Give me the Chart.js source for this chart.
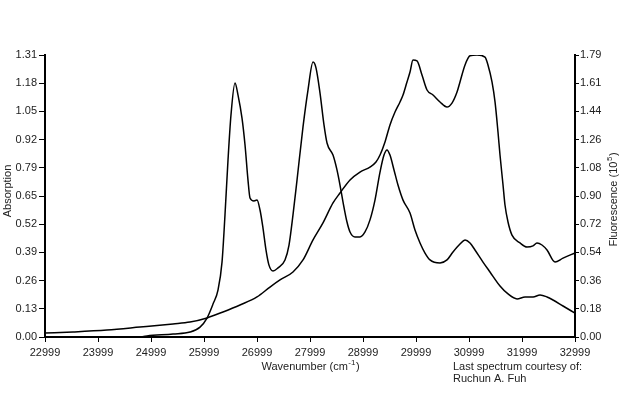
<!DOCTYPE html>
<html>
<head>
<meta charset="utf-8">
<script src="https://cdn.jsdelivr.net/npm/chart.js@4/dist/chart.umd.min.js"></script>
<style>
  html, body { margin: 0; padding: 0; background: #fff; }
  #wrap { width: 623px; height: 393px; }
</style>
</head>
<body>
<div id="wrap"><canvas id="c" width="623" height="393"></canvas></div>
<script>
// ---- Data ----
// Sharp vibronic curve, plotted on the left (Absorption) axis
const absWavenumbers = [24791,24924,25414,25735,25924,26056,26169,26263,26339,26395,26452,26508,26584,26641,26716,26773,26829,26867,26942,26999,27056,27112,27169,27225,27301,27395,27527,27603,27678,27754,27867,27961,28056,28112,28188,28263,28320,28433,28508,28565,28622,28697,28754,28848,28942,29037,29131,29225,29320,29395,29452,29508,29584,29659,29754,29886,29980,30075,30169,30263,30452,30584,30697,30829,30924,31018,31112,31263,31395,31584,31735,31905,32056,32207,32339,32471,32584,32773,32999];
const absValues = [0.000,0.005,0.014,0.023,0.046,0.088,0.153,0.218,0.348,0.567,0.822,1.031,1.180,1.124,1.017,0.892,0.729,0.646,0.632,0.636,0.590,0.506,0.404,0.334,0.307,0.321,0.358,0.427,0.567,0.729,0.976,1.147,1.277,1.250,1.133,0.985,0.901,0.845,0.776,0.706,0.627,0.534,0.488,0.465,0.465,0.488,0.544,0.636,0.766,0.845,0.869,0.845,0.776,0.706,0.636,0.576,0.497,0.437,0.390,0.358,0.344,0.358,0.395,0.432,0.451,0.437,0.404,0.348,0.302,0.237,0.200,0.177,0.186,0.186,0.195,0.186,0.172,0.144,0.111];

// Smooth broad curve, plotted on the right (Fluorescence, 10^5) axis
const fluWavenumbers = [22999,23527,24169,24791,25414,25735,26056,26358,26678,26999,27244,27433,27678,27867,28056,28244,28433,28565,28754,28942,29131,29244,29320,29414,29508,29603,29697,29754,29829,29886,29942,30018,30112,30207,30320,30452,30584,30678,30773,30829,30924,31018,31150,31301,31357,31433,31490,31546,31584,31641,31678,31735,31810,31961,32093,32207,32282,32376,32471,32622,32773,32999];
const fluValues = [0.025,0.032,0.044,0.063,0.083,0.095,0.121,0.159,0.203,0.254,0.317,0.362,0.413,0.489,0.616,0.724,0.851,0.914,0.997,1.047,1.079,1.111,1.155,1.238,1.346,1.428,1.492,1.536,1.619,1.682,1.758,1.752,1.663,1.568,1.536,1.492,1.460,1.485,1.555,1.619,1.727,1.785,1.790,1.777,1.727,1.619,1.492,1.301,1.155,0.965,0.838,0.730,0.647,0.597,0.571,0.578,0.597,0.584,0.552,0.476,0.501,0.533];

// Axis tick labels
const xTickValues = [22999,23999,24999,25999,26999,27999,28999,29999,30999,31999,32999];
const leftTickLabels = ['0.00','0.13','0.26','0.39','0.52','0.65','0.79','0.92','1.05','1.18','1.31'];
const rightTickLabels = ['0.00','0.18','0.36','0.54','0.72','0.90','1.08','1.26','1.44','1.61','1.79'];
const LEFT_MAX = 1.31;
const RIGHT_MAX = 1.79;
const X_MIN = 22999, X_MAX = 32999;

// ---- Chart ----
const FONT_FAMILY = '"Liberation Sans", Arial, Helvetica, sans-serif';
const TEXT_COLOR = '#222';

function toPoints(xs, ys) { return xs.map((x, i) => ({ x: x, y: ys[i] })); }

function drawSupText(ctx, parts, cx, cy, rotation) {
  // parts: [base, sup, tail]
  const mainFont = '11px ' + FONT_FAMILY;
  const supFont = '8px ' + FONT_FAMILY;
  ctx.save();
  ctx.translate(cx, cy);
  ctx.rotate(rotation);
  ctx.textBaseline = 'middle';
  ctx.textAlign = 'left';
  ctx.font = mainFont;
  const w1 = ctx.measureText(parts[0]).width;
  const w3 = ctx.measureText(parts[2]).width;
  ctx.font = supFont;
  const w2 = ctx.measureText(parts[1]).width;
  let x = -(w1 + w2 + w3) / 2;
  ctx.font = mainFont;
  ctx.fillText(parts[0], x, 0);
  x += w1;
  ctx.font = supFont;
  ctx.fillText(parts[1], x + 0.5, -4);
  x += w2 + 1;
  ctx.font = mainFont;
  ctx.fillText(parts[2], x, 0);
  ctx.restore();
}

const textPlugin = {
  id: 'extraTexts',
  afterDraw(chart) {
    const ctx = chart.ctx;
    const a = chart.chartArea;
    ctx.save();
    ctx.fillStyle = TEXT_COLOR;
    // x axis title
    drawSupText(ctx, ['Wavenumber (cm', '-1', ')'], (a.left + a.right) / 2, 367, 0);
    // left axis title
    ctx.save();
    ctx.translate(8, 191);
    ctx.rotate(-Math.PI / 2);
    ctx.font = '11px ' + FONT_FAMILY;
    ctx.textAlign = 'center';
    ctx.textBaseline = 'middle';
    ctx.fillText('Absorption', 0, 0);
    ctx.restore();
    // right axis title
    drawSupText(ctx, ['Fluorescence (10', '5', ')'], 614, 200, -Math.PI / 2);
    // credit
    ctx.font = '11px ' + FONT_FAMILY;
    ctx.textAlign = 'left';
    ctx.textBaseline = 'middle';
    ctx.fillText('Last spectrum courtesy of:', 453, 367);
    ctx.fillText('Ruchun A. Fuh', 453, 379);
    ctx.restore();
  }
};

const tickFont = { family: FONT_FAMILY, size: 11 };

new Chart(document.getElementById('c'), {
  type: 'line',
  data: {
    datasets: [
      {
        label: 'Absorption',
        data: toPoints(absWavenumbers, absValues),
        yAxisID: 'yL',
        borderColor: '#000',
        borderWidth: 1.5,
        pointRadius: 0,
        fill: false,
        cubicInterpolationMode: 'monotone'
      },
      {
        label: 'Fluorescence',
        data: toPoints(fluWavenumbers, fluValues),
        yAxisID: 'yR',
        borderColor: '#000',
        borderWidth: 1.5,
        pointRadius: 0,
        fill: false,
        cubicInterpolationMode: 'monotone'
      }
    ]
  },
  options: {
    responsive: false,
    animation: false,
    devicePixelRatio: 1,
    layout: { padding: { top: 55, left: 0, right: 0, bottom: 0 } },
    plugins: { legend: { display: false }, tooltip: { enabled: false }, title: { display: false } },
    scales: {
      x: {
        type: 'linear',
        position: 'bottom',
        min: X_MIN,
        max: X_MAX,
        afterBuildTicks: (s) => { s.ticks = xTickValues.map(v => ({ value: v })); },
        afterFit: (s) => { s.height = 56; },
        ticks: {
          autoSkip: false, maxRotation: 0, minRotation: 0,
          font: tickFont, color: TEXT_COLOR, padding: 4,
          callback: (v) => String(v)
        },
        grid: { drawOnChartArea: false, drawTicks: true, tickLength: 5, color: '#000', tickWidth: 1 },
        border: { display: true, color: '#000', width: 2 }
      },
      yL: {
        type: 'linear',
        position: 'left',
        min: 0,
        max: LEFT_MAX,
        afterBuildTicks: (s) => { s.ticks = leftTickLabels.map((l, i) => ({ value: i * LEFT_MAX / 10 })); },
        afterFit: (s) => { s.width = 45; },
        ticks: {
          autoSkip: false, font: tickFont, color: TEXT_COLOR, padding: 2,
          callback: (v, i) => leftTickLabels[i]
        },
        grid: { drawOnChartArea: false, drawTicks: true, tickLength: 6, color: '#000', tickWidth: 1 },
        border: { display: true, color: '#000', width: 2 }
      },
      yR: {
        type: 'linear',
        position: 'right',
        min: 0,
        max: RIGHT_MAX,
        afterBuildTicks: (s) => { s.ticks = rightTickLabels.map((l, i) => ({ value: i * RIGHT_MAX / 10 })); },
        afterFit: (s) => { s.width = 48; },
        ticks: {
          autoSkip: false, font: tickFont, color: TEXT_COLOR, padding: 1,
          callback: (v, i) => rightTickLabels[i]
        },
        grid: { drawOnChartArea: false, drawTicks: true, tickLength: 4, color: '#000', tickWidth: 1 },
        border: { display: true, color: '#000', width: 2 }
      }
    }
  },
  plugins: [textPlugin]
});
</script>
</body>
</html>
